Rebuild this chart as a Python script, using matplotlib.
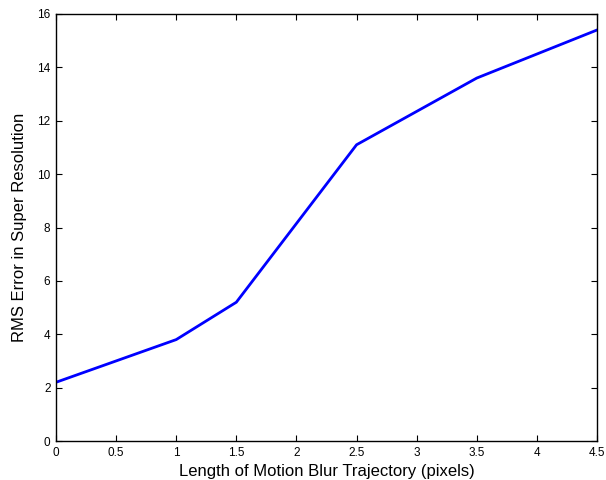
import matplotlib
matplotlib.use("Agg")
import matplotlib.pyplot as plt

blur_length = [0, 1, 1.5, 2.5, 3.5, 4.5]
rms_error = [2.2, 3.8, 5.2, 11.1, 13.6, 15.4]
x_ticks = [0, 0.5, 1, 1.5, 2, 2.5, 3, 3.5, 4, 4.5]
x_tick_labels = ["0", "0.5", "1", "1.5", "2", "2.5", "3", "3.5", "4", "4.5"]
y_ticks = [0, 2, 4, 6, 8, 10, 12, 14, 16]

plt.rcParams['font.family'] = ['Liberation Sans', 'DejaVu Sans']

fig = plt.figure(figsize=(6.06, 4.8), dpi=100)
ax = fig.add_axes([56/606, 39/480, (597-56)/606, (441-14)/480])
ax.plot(blur_length, rms_error, color='#0000ff', linewidth=2)
ax.set_xlim(0, 4.5)
ax.set_ylim(0, 16)
ax.set_xticks(x_ticks)
ax.set_xticklabels(x_tick_labels)
ax.set_yticks(y_ticks)
ax.tick_params(direction='in', top=True, right=True, labelsize=8.5, length=4, width=0.8, pad=4)
for s in ax.spines.values():
    s.set_linewidth(1.0)
ax.set_xlabel("Length of Motion Blur Trajectory (pixels)", fontsize=12, labelpad=4)
ax.set_ylabel("RMS Error in Super Resolution", fontsize=12, labelpad=7)
fig.savefig("out.png", dpi=100)
